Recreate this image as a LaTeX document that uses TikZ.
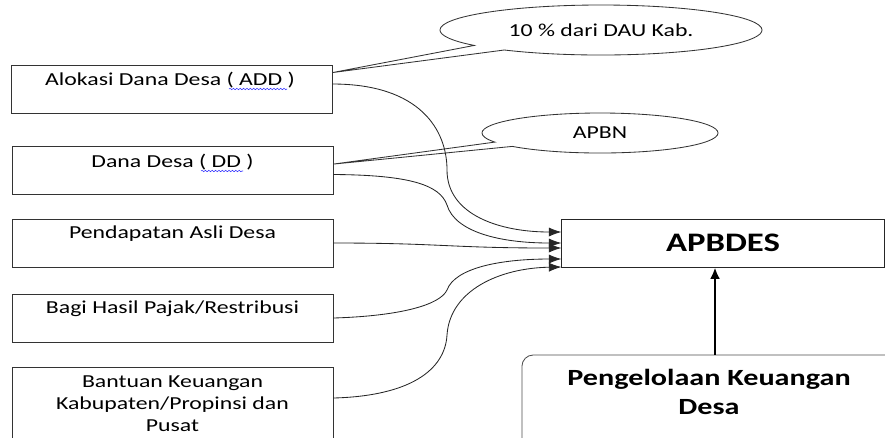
\documentclass[tikz,border=0pt]{standalone}
\usepackage{fontspec}
\setmainfont[FakeStretch=1.3]{Carlito}
\usetikzlibrary{shapes,shapes.callouts,arrows,positioning,calc,decorations.pathmorphing,arrows.meta}

\begin{document}
\begin{tikzpicture}[x=0.025cm, y=-0.025cm,
    srcbox/.style={draw=black!80, line width=0.6pt, minimum width=8.025cm, minimum height=1.2cm},
    srctxt/.style={font=\fontsize{13}{15.6}\selectfont, align=center, inner sep=0pt},
    bubble/.style={ellipse callout, draw=black!80, line width=0.6pt, font=\fontsize{13}{15.6}\selectfont},
    flow/.style={draw=black!85, line width=0.6pt, -{Latex[length=9pt,width=6.5pt]}},
    squiggle/.style={draw=blue!80, line width=0.4pt, decorate, decoration={snake, amplitude=0.5pt, segment length=2.4pt}}]
    \useasboundingbox (0,0) rectangle (885,437);

    % sumber dana
    \node[srcbox] (add) at (171.5,89) {};
    \node[srctxt] (addtxt) at (170,80) {Alokasi Dana Desa ( ADD )};
    \node[srcbox] (dd) at (172.5,170.5) {};
    \node[srctxt] (ddtxt) at (172.5,162) {Dana Desa ( DD )};
    \node[srcbox] (pad) at (172.5,243) {};
    \node[srctxt] (padtxt) at (172.5,234) {Pendapatan Asli Desa};
    \node[srcbox] (bhp) at (172.5,318) {};
    \node[srctxt] (bhptxt) at (172.5,309) {Bagi Hasil Pajak/Restribusi};
    \node[srcbox, minimum height=2.4cm] (bkp) at (172.5,415) {};
    \node[srctxt] (bkptxt) at (172.5,404) {Bantuan Keuangan\\Kabupaten/Propinsi dan\\Pusat};

    % spell check marks
    \draw[squiggle] (229,89) -- (287,89);
    \draw[squiggle] (201,171) -- (243,171);

    % tujuan
    \node[draw=black!85, line width=0.7pt, minimum width=8.05cm, minimum height=1.2cm,
          font=\fontsize{19}{22}\selectfont\bfseries] (apbdes) at (723,243) {APBDES};
    \node[draw=black!70, line width=0.6pt, rounded corners=8pt, minimum width=9.65cm,
          minimum height=2.6cm] (pkd) at (715,407) {};
    \node[font=\fontsize{16.5}{20.6}\selectfont\bfseries, align=center] (pkdtxt) at (709,392)
          {Pengelolaan Keuangan\\Desa};

    % keterangan
    \node[bubble, minimum width=8.05cm, minimum height=1.25cm,
          callout absolute pointer={($(add.north east)+(0,8)$)}] (dau) at (601,30) {10 \% dari DAU Kab.};
    \node[bubble, minimum width=5.9cm, minimum height=1cm,
          callout absolute pointer={($(dd.north east)+(0,18)$)}] (apbn) at (600,133) {APBN};

    % aliran dana
    \draw[flow] ($(add.east)+(0,-5)$) .. controls (420,84) and (447,130) .. (447,170)
        .. controls (447,215) and (500,232) .. ($(apbdes.west)+(0,-11)$);
    \draw[flow] ($(dd.east)+(0,4)$) .. controls (410,175) and (440,185) .. (447,205)
        .. controls (455,232) and (500,243) .. (apbdes.west);
    \draw[flow] (pad.east) .. controls (440,243) and (450,248) .. ($(apbdes.west)+(0,5)$);
    \draw[flow] (bhp.east) .. controls (400,316) and (440,305) .. (447,290)
        .. controls (455,268) and (500,259) .. ($(apbdes.west)+(0,16)$);
    \draw[flow] ($(bkp.east)+(0,-17)$) .. controls (410,396) and (445,370) .. (447,335)
        .. controls (450,290) and (500,268) .. ($(apbdes.west)+(0,24)$);
    \draw[line width=1.6pt, -{Latex[length=8pt,width=7pt]}] (pkd.north) -- (pkd.north |- apbdes.south);
\end{tikzpicture}
\end{document}
